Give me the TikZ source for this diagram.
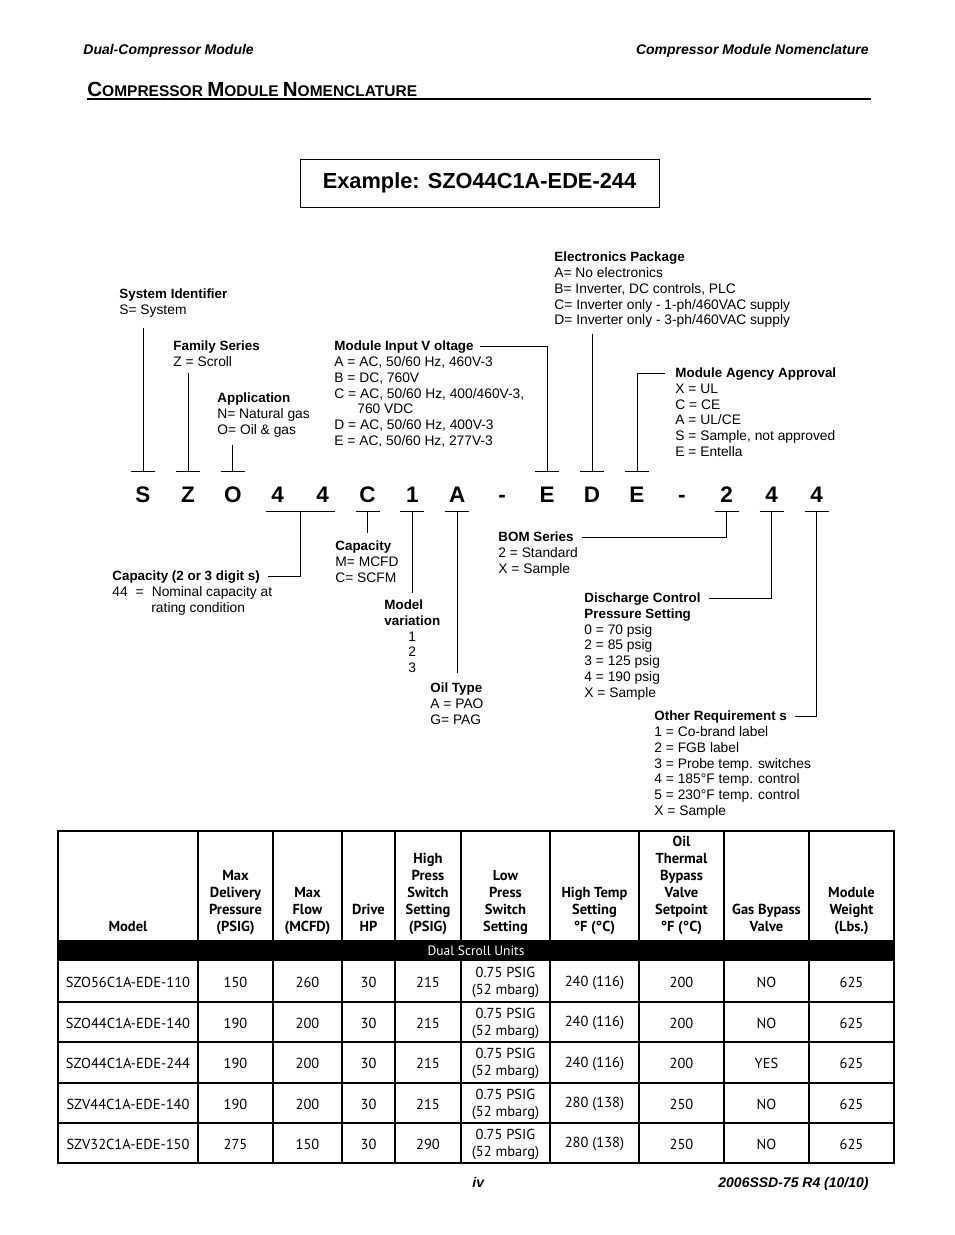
\documentclass[tikz,border=0pt]{standalone}
\usepackage{fontspec}
\setmainfont{Liberation Sans}
\newfontfamily\tabfont{PT Sans}
\usetikzlibrary{positioning, calc}
\newcommand\tcap[1]{{\fontsize{20.5}{21}\selectfont #1}}

\begin{document}
\begin{tikzpicture}[x=1pt, y=-1pt, line width=0.8pt,
  hd/.style={anchor=base west, inner sep=0pt, text depth=3pt, font=\bfseries\fontsize{13.4}{15.7}\selectfont},
  bd/.style={inner sep=0pt, align=left, font=\fontsize{13.8}{15.7}\selectfont},
  letter/.style={anchor=base, inner xsep=0pt, inner ysep=9pt, text height=21pt, text depth=0pt, font=\bfseries\fontsize{22.5}{22}\selectfont},
  th/.style={anchor=south, inner sep=0pt, text depth=4pt, align=center, font=\tabfont\bfseries\fontsize{14.5}{17}\selectfont},
  td/.style={inner sep=0pt, align=center, font=\tabfont\fontsize{14.5}{17}\selectfont},
  pagetext/.style={inner sep=0pt, font=\bfseries\itshape\fontsize{14}{16}\selectfont}]
  \fill[white] (0,0) rectangle (954,1235);
  \useasboundingbox (0,0) rectangle (954,1235);

  % page header, title and footer
  \node[pagetext, anchor=base west] (lefthead) at (83,54) {Dual-Compressor Module};
  \node[pagetext, anchor=base east] (righthead) at (869,54) {Compressor Module Nomenclature};
  \node[anchor=base west, inner sep=0pt, font=\bfseries\fontsize{15.5}{16}\selectfont] (title) at (87,96.5)
    {\tcap{C}OMPRESSOR \tcap{M}ODULE \tcap{N}OMENCLATURE};
  \draw[line width=2pt] (87,98.5) -- (871,98.5);
  \node[pagetext, anchor=base west] (pageno) at (472,1187) {iv};
  \node[pagetext, anchor=base east] (docno) at (869,1187) {2006SSD-75 R4 (10/10)};

  % example box
  \node[draw, line width=1pt, minimum width=359, minimum height=48,
        font=\bfseries\fontsize{21.8}{24}\selectfont] (example) at (479.5,183) {Example: SZO44C1A-EDE-244};

  % model code letters
  \foreach \c [count=\i] in {S,Z,O,4,4,C,1,A,-,E,D,E,-,2,4,4}
    \node[letter] (L\i) at ({143+44.9*(\i-1)},502) {\c};
  \foreach \i in {1,2,3,10,11,12}
    \draw ([xshift=-12pt]L\i.north) -- ([xshift=12pt]L\i.north);
  \foreach \i in {6,7,8,14,15,16}
    \draw ([xshift=-12pt]L\i.south) -- ([xshift=12pt]L\i.south);
  \draw ([xshift=-12pt]L4.south) -- ([xshift=12pt]L5.south);

  % labels above the code
  \node[hd] (sysid) at (119,298) {System Identifier};
  \node[bd, below=3pt of sysid.south west, anchor=north west] (sysidbody) {S= System};
  \node[hd] (family) at (173,350) {Family Series};
  \node[bd, below=3pt of family.south west, anchor=north west] (familybody) {Z = Scroll};
  \node[hd] (appl) at (217,402) {Application};
  \node[bd, below=3pt of appl.south west, anchor=north west] (applbody) {N= Natural gas\\O= Oil \& gas};
  \node[hd] (volt) at (334,350) {Module Input V oltage};
  \node[bd, below=3pt of volt.south west, anchor=north west] (voltbody)
    {A = AC, 50/60 Hz, 460V-3\\B = DC, 760V\\C = AC, 50/60 Hz, 400/460V-3,\\\hspace*{23pt}760 VDC\\D = AC, 50/60 Hz, 400V-3\\E = AC, 50/60 Hz, 277V-3};
  \node[hd] (elec) at (554,261) {Electronics Package};
  \node[bd, below=3pt of elec.south west, anchor=north west] (elecbody)
    {A= No electronics\\B= Inverter, DC controls, PLC\\C= Inverter only - 1-ph/460VAC supply\\D= Inverter only - 3-ph/460VAC supply};
  \node[hd] (agency) at (675,377) {Module Agency Approval};
  \node[bd, below=3pt of agency.south west, anchor=north west] (agencybody)
    {X = UL\\C = CE\\A = UL/CE\\S = Sample, not approved\\E = Entella};

  % labels below the code
  \node[hd] (capdig) at (112,580) {Capacity (2 or 3 digit s)};
  \node[bd, below=3pt of capdig.south west, anchor=north west] (capdigbody)
    {44\hspace{8pt}=\hspace{8pt}Nominal capacity at\\\hspace*{39pt}rating condition};
  \node[hd] (capunit) at (335,550) {Capacity};
  \node[bd, below=3pt of capunit.south west, anchor=north west] (capunitbody) {M= MCFD\\C= SCFM};
  \node[hd] (model) at (384,609) {Model};
  \node[bd, below=3pt of model.south west, anchor=north west] (modelbody)
    {\textbf{\fontsize{13.4}{15.7}\selectfont variation}\\\hspace*{24pt}1\\\hspace*{24pt}2\\\hspace*{24pt}3};
  \node[hd] (oil) at (430,692) {Oil Type};
  \node[bd, below=3pt of oil.south west, anchor=north west] (oilbody) {A = PAO\\G= PAG};
  \node[hd] (bom) at (498,541) {BOM Series};
  \node[bd, below=3pt of bom.south west, anchor=north west] (bombody) {2 = Standard\\X = Sample};
  \node[hd] (disch) at (584,602) {Discharge Control};
  \node[bd, below=3pt of disch.south west, anchor=north west] (dischbody)
    {\textbf{\fontsize{13.4}{15.7}\selectfont Pressure Setting}\\0 = 70 psig\\2 = 85 psig\\3 = 125 psig\\4 = 190 psig\\X = Sample};
  \node[hd] (other) at (654,720) {Other Requirement s};
  \node[bd, below=3pt of other.south west, anchor=north west] (otherbody)
    {1 = Co-brand label\\2 = FGB label\\3 = Probe temp. switches\\4 = 185°F temp. control\\5 = 230°F temp. control\\X = Sample};

  % connectors
  \draw ($(sysidbody.south -| L1.north)+(0,10)$) -- (L1.north);
  \draw ($(familybody.south -| L2.north)+(0,6)$) -- (L2.north);
  \draw ($(applbody.south -| L3.north)+(0,7)$) -- (L3.north);
  \draw ([xshift=6pt]volt.east) -| (L10.north);
  \draw ($(elecbody.south -| L11.north)+(0,5.5)$) -- (L11.north);
  \draw (L12.north) |- ([xshift=-10pt]agency.west);
  \draw ($(L4.south)!0.5!(L5.south)$) |- ([xshift=8pt]capdig.east);
  \draw (L6.south) -- ($(capunit.north -| L6.south)+(0,-7)$);
  \draw (L7.south) -- ($(model.north -| L7.south)+(0,-6)$);
  \draw (L8.south) -- ($(oil.north -| L8.south)+(0,-9)$);
  \draw (L14.south) |- ([xshift=8pt]bom.east);
  \draw (L15.south) |- ([xshift=8pt]disch.east);
  \draw (L16.south) |- ([xshift=8pt]other.east);

  % table
  \draw[line width=1.2pt] (58,831) rectangle (894,1163);
  \foreach \x in {198,273,342,395,461,550,639,724,809}
    \draw[line width=1.2pt] (\x,831) -- (\x,1163);
  \foreach \y in {1002,1042,1083,1123}
    \draw[line width=1.2pt] (58,\y) -- (894,\y);
  \fill[black] (58,940) rectangle (894,961);
  \node[td, text=white, font=\tabfont\fontsize{13.5}{15}\selectfont] (band) at (476,951) {Dual Scroll Units};
  \foreach \cx/\txt [count=\i] in {128/Model, 235.5/{Max\\Delivery\\Pressure\\(PSIG)}, 307.5/{Max\\Flow\\(MCFD)},
      368.5/{Drive\\HP}, 428/{High\\Press\\Switch\\Setting\\(PSIG)}, 505.5/{Low\\Press\\Switch\\Setting},
      594.5/{High Temp\\Setting\\°F (°C)}, 681.5/{Oil\\Thermal\\Bypass\\Valve\\Setpoint\\°F (°C)},
      766.5/{Gas Bypass\\Valve}, 851.5/{Module\\Weight\\(Lbs.)}}
    \node[th] (th\i) at (\cx,936) {\txt};
  \foreach \cy/\vmdl/\vmp/\vmf/\vhs/\vht/\vot/\vgb [count=\r] in {
      982.5/SZO56C1A-EDE-110/150/260/215/240 (116)/200/NO,
      1023/SZO44C1A-EDE-140/190/200/215/240 (116)/200/NO,
      1063.5/SZO44C1A-EDE-244/190/200/215/240 (116)/200/YES,
      1104/SZV44C1A-EDE-140/190/200/215/280 (138)/250/NO,
      1144/SZV32C1A-EDE-150/275/150/290/280 (138)/250/NO}{
    \node[td] (mdl\r) at (128,\cy) {\vmdl};
    \node[td] (mp\r) at (235.5,\cy) {\vmp};
    \node[td] (mf\r) at (307.5,\cy) {\vmf};
    \node[td] (hp\r) at (368.5,\cy) {30};
    \node[td] (hs\r) at (428,\cy) {\vhs};
    \node[td] (ls\r) at (505.5,\cy) {0.75 PSIG\\(52 mbarg)};
    \node[td] (ht\r) at (594.5,\cy) {\vht};
    \node[td] (ot\r) at (681.5,\cy) {\vot};
    \node[td] (gb\r) at (766.5,\cy) {\vgb};
    \node[td] (wt\r) at (851.5,\cy) {625};
  }
\end{tikzpicture}
\end{document}
